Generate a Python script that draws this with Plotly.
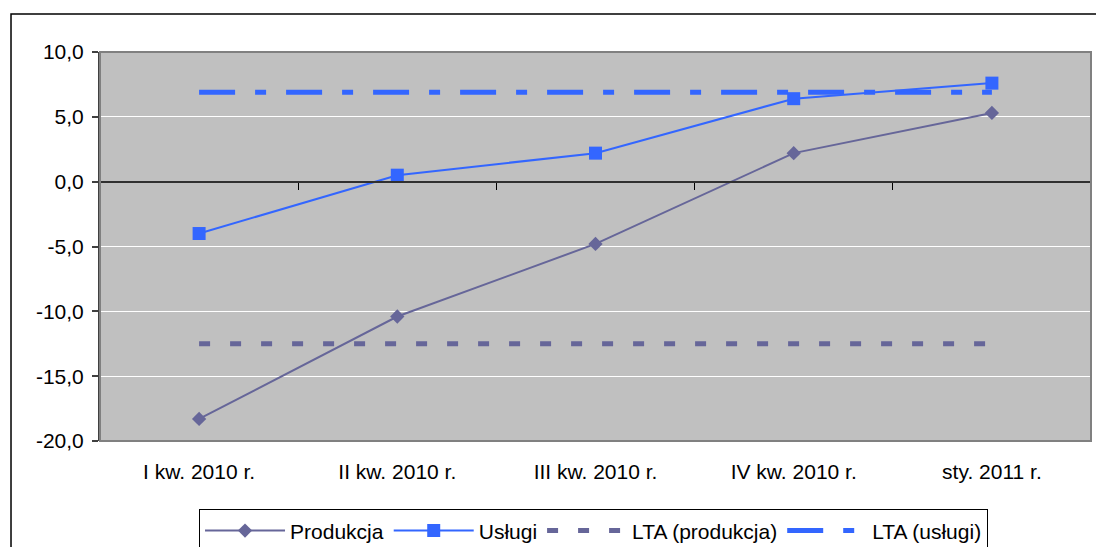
import plotly.graph_objects as go

# dane
kategorie = ["I kw. 2010 r.", "II kw. 2010 r.", "III kw. 2010 r.", "IV kw. 2010 r.", "sty. 2011 r."]
produkcja = [-18.3, -10.4, -4.8, 2.2, 5.3]
uslugi = [-4.0, 0.5, 2.2, 6.4, 7.6]
lta_produkcja = -12.5
lta_uslugi = 6.9

y_ticks = [-20, -15, -10, -5, 0, 5, 10]
y_labels = ["-20,0", "-15,0", "-10,0", "-5,0", "0,0", "5,0", "10,0"]

KOL_PROD = "#666699"
KOL_USL = "#3366FF"
FONT = "Liberation Sans, Arial, sans-serif"
FS = 21

fig = go.Figure()

# linie LTA (pod seriami)
fig.add_trace(go.Scatter(
    x=kategorie, y=[lta_produkcja] * len(kategorie),
    mode="lines", name="LTA (produkcja)",
    line=dict(color=KOL_PROD, width=5, dash="11px,20px"),
    legendrank=3,
))
fig.add_trace(go.Scatter(
    x=kategorie, y=[lta_uslugi] * len(kategorie),
    mode="lines", name="LTA (usługi)",
    line=dict(color=KOL_USL, width=5, dash="36px,20px,11px,20px"),
    legendrank=4,
))

# serie
fig.add_trace(go.Scatter(
    x=kategorie, y=produkcja,
    mode="lines+markers", name="Produkcja",
    line=dict(color=KOL_PROD, width=2),
    marker=dict(symbol="diamond", size=11, color=KOL_PROD),
    legendrank=1,
))
fig.add_trace(go.Scatter(
    x=kategorie, y=uslugi,
    mode="lines+markers", name="Usługi",
    line=dict(color=KOL_USL, width=2),
    marker=dict(symbol="square", size=13, color=KOL_USL),
    legendrank=2,
    xaxis="x2",
))

fig.update_layout(
    width=1096, height=547,
    margin=dict(l=100, r=5, t=52, b=106, autoexpand=False),
    paper_bgcolor="white",
    plot_bgcolor="#C0C0C0",
    font=dict(family=FONT, size=FS, color="black"),
    showlegend=True,
    legend=dict(
        orientation="h", x=0.498, y=-0.176, xanchor="center", yanchor="top",
        bordercolor="black", borderwidth=1, bgcolor="white",
        font=dict(size=FS), traceorder="normal", itemwidth=80,
    ),
    xaxis=dict(
        type="category", categoryorder="array", categoryarray=kategorie,
        range=[-0.5, 4.5], showgrid=False, zeroline=False,
        showline=False, ticks="outside", ticklen=12, tickcolor="rgba(0,0,0,0)",
        tickfont=dict(size=FS),
    ),
    xaxis2=dict(
        type="category", categoryorder="array", categoryarray=kategorie,
        range=[-0.5, 4.5], overlaying="x", anchor="free", position=2 / 3,
        side="bottom", showticklabels=False, showgrid=False, zeroline=False,
        showline=True, linecolor="#303030", linewidth=2,
        ticks="outside", tickson="boundaries", ticklen=7, tickcolor="black", tickwidth=1,
    ),
    yaxis=dict(
        range=[-20, 10], tickvals=y_ticks, ticktext=y_labels,
        showgrid=True, gridcolor="white", gridwidth=1,
        zeroline=False, showline=True, linecolor="#404040", linewidth=2,
        ticks="outside", ticklen=6, tickcolor="#404040", tickwidth=2,
        ticklabelstandoff=4, tickfont=dict(size=FS),
    ),
    shapes=[
        # ramka obszaru wykresu
        dict(type="rect", xref="paper", yref="paper", x0=0, x1=1, y0=0, y1=1,
             line=dict(color="#808080", width=2), layer="above"),
        # ramka całego wykresu
        dict(type="rect", xref="paper", yref="paper", x0=-0.0898, x1=1.05, y0=-0.5, y1=1.0977,
             line=dict(color="black", width=1.5), layer="above"),
    ],
)

fig.write_html("out.html", config={"displayModeBar": False},
               post_script="document.body.style.margin='0';")
